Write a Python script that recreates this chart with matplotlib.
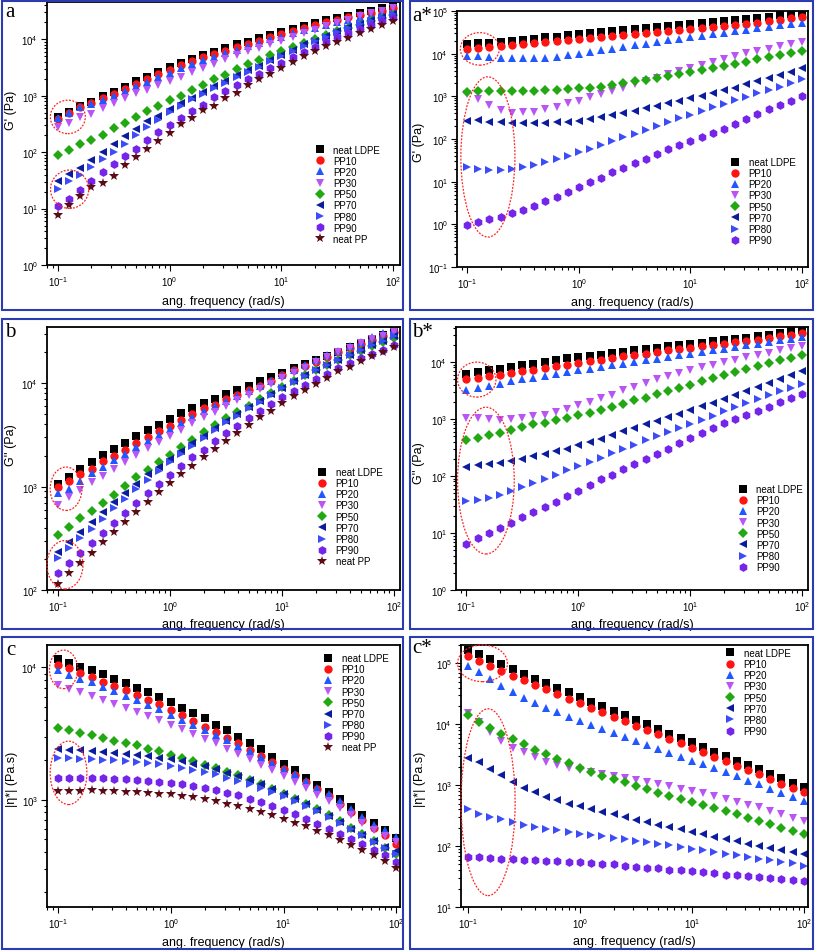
import matplotlib.pyplot as plt
from matplotlib.patches import Ellipse, Rectangle

plt.rcParams['font.family'] = ['Liberation Sans', 'DejaVu Sans']
plt.rcParams['mathtext.default'] = 'regular'

# angular frequency grid (rad/s)
freq = [0.1, 0.126, 0.158, 0.2, 0.251, 0.316, 0.398, 0.501, 0.631, 0.794,
        1.0, 1.26, 1.58, 2.0, 2.51, 3.16, 3.98, 5.01, 6.31, 7.94,
        10, 12.6, 15.8, 20, 25.1, 31.6, 39.8, 50.1, 63.1, 79.4, 100]

# --- panel a : G' (Pa)
a_ldpe = [420, 510, 660, 790, 1000, 1170, 1450, 1820, 2140, 2690, 3240, 3890, 4570, 5370, 6030, 7080, 8130, 9120, 10700, 12000, 13500, 15500, 17400, 19500, 21900, 24000, 26300, 29500, 32400, 35500, 39800]
a_pp10 = [380, 490, 630, 740, 910, 1070, 1320, 1620, 1950, 2400, 2880, 3470, 4070, 4790, 5500, 6310, 7410, 8320, 9550, 11000, 12300, 14100, 15800, 17800, 20000, 21900, 24500, 26900, 29500, 32400, 36300]
a_pp20 = [410, 500, 620, 710, 850, 1000, 1230, 1480, 1780, 2140, 2570, 3090, 3630, 4270, 4900, 5750, 6610, 7590, 8710, 10000, 11200, 12900, 14500, 16200, 18200, 20400, 22400, 24500, 26900, 29500, 32400]
a_pp30 = [280, 330, 420, 480, 600, 760, 910, 1100, 1290, 1550, 1860, 2140, 2630, 3090, 3720, 4470, 5250, 6170, 7080, 8130, 9550, 11200, 12900, 14800, 17400, 19500, 22400, 25700, 29500, 32400, 36300]
a_pp50 = [91, 110, 138, 162, 204, 269, 331, 427, 537, 661, 832, 977, 1260, 1580, 1950, 2340, 2950, 3630, 4370, 5250, 6170, 7240, 8710, 10200, 12000, 13800, 15800, 18200, 20900, 24000, 27500]
a_pp70 = [31, 41, 52, 74, 102, 138, 195, 263, 355, 447, 589, 759, 912, 1150, 1480, 1820, 2290, 2820, 3390, 4270, 5250, 6460, 8130, 9550, 11700, 13800, 16600, 19100, 21900, 25100, 28200]
a_pp80 = [22, 31, 40, 55, 76, 102, 141, 200, 282, 372, 513, 661, 871, 1070, 1380, 1700, 2140, 2630, 3240, 4070, 5010, 6170, 7760, 9330, 11200, 13500, 15800, 18600, 21400, 24500, 28200]
a_pp90 = [11, 15, 21, 31, 44, 62, 87, 115, 162, 224, 302, 407, 537, 692, 933, 1200, 1550, 1950, 2450, 3090, 3890, 4900, 6030, 7240, 8910, 11000, 12900, 15500, 18200, 20900, 24000]
a_pp = [7.6, 11.5, 16.5, 24, 29, 38, 59, 83, 112, 156, 220, 310, 400, 550, 670, 930, 1140, 1580, 2000, 2460, 3100, 4050, 5000, 6100, 7500, 8950, 10700, 13000, 15500, 17700, 21000]

# --- panel a* : G' (Pa)
as_ldpe = [16600, 17400, 18200, 19100, 20000, 20900, 22400, 24000, 25100, 26900, 28200, 30200, 31600, 33100, 35500, 37200, 38900, 41700, 44700, 46800, 50100, 52500, 55000, 58900, 61700, 64600, 69200, 74100, 79400, 85100, 91200]
as_pp10 = [13200, 13600, 14100, 15200, 16000, 16900, 17900, 18800, 19900, 21000, 21700, 23000, 24200, 25600, 27000, 28400, 30600, 32300, 34000, 36000, 38600, 40700, 43100, 45400, 47900, 50600, 53300, 57300, 61700, 67500, 73600]
as_pp20 = [8870, 8870, 8550, 8110, 7960, 7820, 7960, 8110, 8550, 9190, 10000, 11000, 12000, 13200, 14400, 15700, 17200, 18800, 20600, 22100, 24200, 26000, 28400, 31100, 34000, 36600, 40000, 43100, 46200, 49700, 53300]
as_pp30 = [1120, 860, 620, 475, 405, 420, 435, 500, 570, 680, 790, 940, 1120, 1350, 1610, 1930, 2310, 2760, 3300, 3950, 4730, 5560, 6530, 7670, 8870, 10200, 11600, 13200, 15200, 17200, 19200]
as_pp50 = [1230, 1300, 1300, 1300, 1330, 1330, 1350, 1370, 1420, 1470, 1530, 1610, 1700, 1830, 2000, 2230, 2440, 2670, 3020, 3300, 3750, 4170, 4650, 5170, 5860, 6530, 7420, 8400, 9520, 10600, 11600]
as_pp70 = [268, 283, 254, 245, 236, 232, 232, 236, 245, 254, 268, 293, 321, 363, 405, 459, 520, 601, 693, 787, 908, 1030, 1170, 1400, 1610, 1930, 2310, 2670, 3130, 3750, 4730]
as_pp80 = [21.7, 19.9, 18.8, 18.8, 19.9, 21.7, 24.6, 28.4, 34.0, 40.7, 48.8, 58.2, 72.3, 88.1, 113, 131, 162, 197, 245, 303, 370, 459, 550, 658, 815, 975, 1170, 1420, 1700, 2040, 2520]
as_pp90 = [0.97, 1.12, 1.30, 1.52, 1.82, 2.22, 2.75, 3.61, 4.32, 5.86, 7.40, 10.0, 12.2, 16.6, 20.6, 27.4, 34.0, 44.6, 58.2, 73.6, 91.3, 113, 135, 171, 224, 293, 384, 502, 623, 787, 1030]

# --- panel b : G'' (Pa)
b_ldpe = [1070, 1250, 1480, 1720, 2020, 2320, 2650, 3070, 3530, 3980, 4520, 5130, 5730, 6400, 7050, 7890, 8610, 9480, 10400, 11400, 12500, 14000, 15400, 16800, 18500, 20200, 22300, 24400, 26900, 29400, 32400]
b_pp10 = [990, 1130, 1330, 1480, 1760, 2000, 2280, 2650, 3050, 3480, 3890, 4420, 5050, 5730, 6220, 7050, 7770, 8610, 9480, 10600, 11900, 13300, 14600, 16200, 17900, 20000, 21800, 24000, 26300, 28900, 31200]
b_pp20 = [860, 950, 1140, 1350, 1540, 1810, 2070, 2400, 2790, 3190, 3610, 4100, 4760, 5350, 6080, 6800, 7600, 8490, 9480, 10600, 12000, 13500, 15000, 16800, 18800, 20700, 23000, 25300, 27900, 30500, 33600]
b_pp30 = [670, 790, 930, 1100, 1280, 1480, 1720, 2040, 2370, 2690, 3120, 3560, 4100, 4690, 5320, 6080, 6900, 7770, 8810, 9860, 11200, 12500, 14100, 16000, 17900, 20000, 22000, 24400, 26900, 28900, 31200]
b_pp50 = [343, 410, 494, 586, 695, 837, 1020, 1230, 1450, 1720, 2020, 2440, 2850, 3360, 3950, 4590, 5320, 6080, 7050, 8000, 9150, 10400, 11900, 13500, 15000, 16800, 18800, 20700, 22800, 24900, 27200]
b_pp70 = [235, 289, 367, 452, 565, 705, 861, 1060, 1310, 1560, 1850, 2230, 2620, 3120, 3670, 4290, 5050, 5860, 6800, 7890, 9010, 10400, 11900, 13300, 15000, 16900, 18900, 21200, 23500, 25900, 28900]
b_pp80 = [204, 255, 318, 389, 486, 622, 760, 949, 1170, 1430, 1720, 2070, 2490, 2960, 3530, 4200, 4860, 5730, 6650, 7710, 8950, 10200, 11700, 13300, 15000, 16900, 18900, 21000, 23300, 25900, 28500]
b_pp90 = [145, 181, 226, 285, 356, 442, 552, 695, 861, 1060, 1300, 1570, 1920, 2280, 2750, 3280, 3890, 4620, 5430, 6310, 7320, 8490, 9640, 10900, 12300, 14000, 15600, 17500, 19200, 21200, 23200]
b_pp = [114, 145, 181, 226, 289, 361, 452, 565, 716, 881, 1080, 1330, 1600, 1950, 2320, 2790, 3280, 3950, 4690, 5430, 6400, 7480, 8610, 9860, 11300, 13000, 14500, 16300, 18200, 20200, 22300]

# --- panel b* : G'' (Pa)
bs_ldpe = [6240, 6660, 7150, 7640, 8170, 8730, 9350, 10000, 10700, 11500, 12200, 12700, 13400, 14400, 15200, 16000, 16900, 17800, 18800, 19600, 21000, 21900, 23100, 24000, 25400, 26800, 28300, 30200, 32300, 34600, 36000]
bs_pp10 = [4950, 5230, 5600, 5990, 6410, 6860, 7330, 7850, 8400, 8980, 9600, 10300, 11000, 11800, 12600, 13300, 14000, 15000, 16000, 16900, 17600, 18800, 19900, 21000, 22200, 23400, 24700, 26400, 28300, 30200, 32300]
bs_pp20 = [3270, 3490, 3790, 4160, 4570, 4950, 5300, 5750, 6240, 6660, 7140, 7640, 8170, 8740, 9350, 10000, 10700, 11400, 12200, 13100, 14000, 15000, 16000, 17100, 18300, 19600, 21000, 22400, 24000, 25700, 27500]
bs_pp30 = [1040, 1050, 1010, 970, 980, 1040, 1110, 1190, 1320, 1510, 1730, 1980, 2330, 2670, 3180, 3640, 4280, 4960, 5600, 6500, 7330, 8170, 8980, 10000, 11000, 12200, 13500, 14600, 16000, 17600, 18800]
bs_pp50 = [432, 469, 515, 566, 630, 721, 803, 848, 944, 1040, 1160, 1270, 1420, 1620, 1800, 2120, 2360, 2700, 3090, 3490, 4000, 4570, 5230, 5990, 6670, 7430, 8510, 9600, 10700, 11700, 13100]
bs_pp70 = [143, 157, 164, 170, 180, 200, 220, 245, 269, 300, 343, 393, 450, 515, 605, 692, 803, 918, 1080, 1240, 1450, 1660, 1930, 2270, 2670, 3090, 3640, 4280, 4950, 5830, 6860]
bs_pp80 = [35.7, 38, 41, 47, 54, 64, 76, 89, 105, 125, 149, 175, 208, 252, 300, 353, 421, 501, 589, 692, 826, 971, 1140, 1360, 1620, 1910, 2240, 2630, 3090, 3540, 4160]
bs_pp90 = [6.4, 8.2, 9.9, 12.3, 14.8, 18.9, 23.2, 29.1, 35.6, 44.3, 55.6, 68.1, 86.9, 106, 130, 164, 200, 245, 300, 377, 462, 566, 692, 848, 1000, 1180, 1400, 1650, 1950, 2300, 2700]

# --- panel c : |eta*| (Pa.s)
c_ldpe = [11600, 10800, 10100, 9540, 8900, 8250, 7660, 7050, 6540, 6000, 5500, 4980, 4540, 4160, 3660, 3350, 2980, 2660, 2400, 2100, 1870, 1670, 1460, 1300, 1140, 1010, 880, 769, 670, 586, 513]
c_pp10 = [10500, 9830, 9120, 8490, 7780, 7260, 6730, 6170, 5660, 5270, 4750, 4360, 3920, 3550, 3260, 2930, 2660, 2370, 2140, 1930, 1720, 1530, 1360, 1210, 1070, 933, 807, 697, 610, 537, 465]
c_pp20 = [9540, 8850, 8250, 7700, 7140, 6620, 6100, 5660, 5190, 4810, 4400, 4040, 3700, 3390, 3110, 2810, 2550, 2320, 2100, 1910, 1720, 1550, 1380, 1230, 1100, 970, 855, 739, 640, 586, 521]
c_pp30 = [7350, 6930, 6540, 6070, 5660, 5270, 4950, 4610, 4280, 3990, 3700, 3410, 3160, 2900, 2660, 2430, 2230, 2040, 1840, 1670, 1510, 1360, 1230, 1090, 977, 870, 761, 665, 593, 528, 478]
c_pp50 = [3510, 3350, 3220, 3070, 2930, 2780, 2700, 2580, 2430, 2320, 2190, 2070, 1950, 1840, 1740, 1620, 1530, 1420, 1310, 1210, 1110, 1020, 933, 845, 761, 689, 614, 546, 486, 433, 385]
c_pp70 = [2400, 2390, 2370, 2340, 2300, 2260, 2230, 2190, 2140, 2080, 2020, 1950, 1870, 1790, 1700, 1600, 1510, 1400, 1310, 1210, 1110, 1020, 923, 840, 752, 677, 603, 537, 490, 440, 410]
c_pp80 = [2070, 2070, 2040, 2020, 2010, 1990, 1960, 1930, 1900, 1850, 1800, 1750, 1690, 1620, 1550, 1470, 1380, 1310, 1220, 1140, 1060, 977, 896, 820, 739, 670, 596, 537, 478, 431, 390]
c_pp90 = [1460, 1460, 1460, 1450, 1450, 1430, 1430, 1400, 1380, 1360, 1340, 1310, 1270, 1220, 1180, 1130, 1080, 1020, 960, 896, 840, 774, 718, 658, 603, 552, 507, 459, 418, 378, 337]
c_pp = [1160, 1160, 1160, 1180, 1160, 1160, 1140, 1140, 1130, 1110, 1100, 1070, 1040, 1010, 971, 933, 890, 855, 807, 761, 718, 669, 628, 579, 537, 498, 456, 413, 378, 341, 306]

# --- panel c* : |eta*| (Pa.s)
cs_ldpe = [166000, 141000, 116000, 96300, 79700, 65900, 55300, 46900, 39800, 33400, 27600, 23400, 19900, 16700, 14000, 11700, 9930, 8340, 6980, 5850, 5030, 4220, 3530, 2960, 2480, 2130, 1810, 1500, 1290, 1090, 939]
cs_pp10 = [134000, 109000, 90400, 74800, 62700, 53200, 44000, 37400, 31400, 26000, 22000, 18700, 15700, 13300, 11300, 9440, 8020, 6810, 5700, 4840, 4110, 3440, 2920, 2480, 2080, 1770, 1500, 1260, 1060, 904, 776]
cs_pp20 = [91600, 71100, 55300, 42900, 33400, 27300, 22600, 18700, 15700, 13300, 11300, 9680, 8220, 7060, 6080, 5290, 4550, 3910, 3400, 2920, 2540, 2190, 1880, 1620, 1390, 1190, 1030, 859, 748, 643, 546]
cs_pp30 = [15100, 10700, 7340, 5290, 4110, 3440, 2850, 2420, 2130, 1930, 1770, 1660, 1540, 1420, 1320, 1220, 1140, 1050, 964, 881, 807, 730, 659, 589, 532, 481, 430, 378, 334, 294, 259]
cs_pp50 = [14200, 10700, 8550, 6810, 5640, 4660, 3850, 3190, 2670, 2270, 1930, 1660, 1420, 1260, 1110, 975, 859, 757, 676, 604, 532, 469, 419, 374, 330, 294, 259, 229, 201, 177, 157]
cs_pp70 = [2810, 2420, 1810, 1460, 1130, 904, 776, 643, 566, 500, 452, 403, 365, 330, 302, 273, 250, 225, 206, 189, 171, 157, 142, 129, 120, 110, 101, 93, 85, 80, 75]
cs_pp80 = [403, 342, 302, 276, 250, 220, 206, 194, 182, 171, 160, 154, 147, 138, 129, 123, 117, 110, 103, 97, 91, 85, 80, 75, 71, 66, 62, 59, 55, 52, 48]
cs_pp90 = [66, 65, 64, 62, 61, 60, 59, 57, 56, 55, 54, 52, 51, 50, 48, 46, 44, 43, 41, 40, 39, 37, 36, 34, 33, 32, 31, 30, 29, 28, 27]

labels = ['neat LDPE', 'PP10', 'PP20', 'PP30', 'PP50', 'PP70', 'PP80', 'PP90', 'neat PP']
markers = ['s', 'o', '^', 'v', 'D', '<', '>', 'h', '*']
colors = ['#000000', '#ff1414', '#2157ff', '#b955f5', '#22a812', '#0b1c9c', '#3c4cf6', '#7524ea', '#5c0c16']
msizes = [5.2, 6, 6, 6, 4.8, 6, 6, 6.3, 7]

W, H = 817, 953
fig = plt.figure(figsize=(W / 100, H / 100), dpi=100)


def px_axes(l, t, r, b):
    return [l / W, 1 - b / H, (r - l) / W, (b - t) / H]


panels = [
    # letter, axes px box, series, ylabel, ylim, xlim, ylabel xy, xlabel y, legend xy, ellipses
    ('a', (47, 3, 400, 266), [a_ldpe, a_pp10, a_pp20, a_pp30, a_pp50, a_pp70, a_pp80, a_pp90, a_pp],
     "G' (Pa)", (1, 4.6e4), (0.08, 115), (-0.085, 0.59), -0.114, (0.759, 0.458),
     [(0.059, 0.563, 0.099, 0.127), (0.064, 0.288, 0.108, 0.146)]),
    ('a*', (457, 12, 808, 268), [as_ldpe, as_pp10, as_pp20, as_pp30, as_pp50, as_pp70, as_pp80, as_pp90],
     "G' (Pa)", (0.1, 1e5), (0.081, 113), (-0.091, 0.49), -0.113, (0.778, 0.43),
     [(0.065, 0.852, 0.111, 0.127), (0.088, 0.43, 0.154, 0.626)]),
    ('b', (47, 328, 400, 591), [b_ldpe, b_pp10, b_pp20, b_pp30, b_pp50, b_pp70, b_pp80, b_pp90, b_pp],
     "G'' (Pa)", (100, 3.5e4), (0.08, 112), (-0.085, 0.555), -0.106, (0.765, 0.468),
     [(0.054, 0.385, 0.09, 0.165), (0.051, 0.096, 0.102, 0.184)]),
    ('b*', (456, 328, 808, 591), [bs_ldpe, bs_pp10, bs_pp20, bs_pp30, bs_pp50, bs_pp70, bs_pp80, bs_pp90],
     "G'' (Pa)", (1, 4.1e4), (0.081, 112), (-0.088, 0.487), -0.106, (0.801, 0.403),
     [(0.059, 0.80, 0.109, 0.133), (0.085, 0.416, 0.161, 0.558)]),
    ('c', (47, 646, 400, 908), [c_ldpe, c_pp10, c_pp20, c_pp30, c_pp50, c_pp70, c_pp80, c_pp90, c_pp],
     "|\u03b7*| (Pa.s)", (154, 1.48e4), (0.0798, 108), (-0.082, 0.492), -0.11, (0.782, 0.969),
     [(0.047, 0.907, 0.08, 0.147), (0.061, 0.512, 0.104, 0.242)]),
    ('c*', (461, 646, 808, 908), [cs_ldpe, cs_pp10, cs_pp20, cs_pp30, cs_pp50, cs_pp70, cs_pp80, cs_pp90],
     "|\u03b7*| (Pa.s)", (10, 2e5), (0.087, 109), (-0.10, 0.49), -0.107, (0.761, 0.989),
     [(0.062, 0.93, 0.144, 0.14), (0.078, 0.40, 0.156, 0.713)]),
]

boxes = [(2, 2, 403, 311), (410, 2, 813, 311), (2, 320, 403, 630),
         (410, 320, 813, 630), (2, 638, 403, 950), (410, 638, 813, 950)]
letter_pos = [(5, 3), (412, 7), (5, 323), (412, 323), (6, 641), (412, 639)]

for (letter, box, series, ylab, ylim, xlim, ylab_xy, xlab_y, leg_xy, ells), fb, lp in zip(panels, boxes, letter_pos):
    ax = fig.add_axes(px_axes(*box))
    for vals, lab, m, c, ms in zip(series, labels, markers, colors, msizes):
        ax.plot(freq, vals, ls='none', marker=m, color=c, ms=ms, mew=0, label=lab)
    ax.set_xscale('log')
    ax.set_yscale('log')
    ax.set_xlim(*xlim)
    ax.set_ylim(*ylim)
    ax.set_xlabel('ang. frequency (rad/s)', fontsize=9)
    ax.set_ylabel(ylab, fontsize=9)
    ax.yaxis.set_label_coords(*ylab_xy)
    ax.xaxis.set_label_coords(0.5, xlab_y)
    ax.xaxis.label.set_va('top')
    ax.tick_params(which='both', direction='out', top=False, right=False, labelsize=7, width=0.8)
    ax.tick_params(which='major', length=4, pad=2.5)
    ax.tick_params(which='minor', length=2)
    for s in ax.spines.values():
        s.set_linewidth(1.3)
    ax.legend(loc='upper left', bbox_to_anchor=leg_xy, frameon=False, fontsize=7,
              handlelength=1.0, handletextpad=0.9, labelspacing=0.12,
              borderpad=0, borderaxespad=0, numpoints=1)
    for cx, cy, w, h in ells:
        ax.add_patch(Ellipse((cx, cy), w, h, transform=ax.transAxes, fill=False,
                             ec='#ff2020', lw=0.9, ls=(0, (1.5, 1.2)), clip_on=False, zorder=5))
    x0, y0, x1, y1 = fb
    fig.add_artist(Rectangle((x0 / W, 1 - y1 / H), (x1 - x0) / W, (y1 - y0) / H,
                             transform=fig.transFigure, fill=False, ec='#2b3bb0', lw=1.5))
    fig.text(lp[0] / W, 1 - lp[1] / H, letter, family='Liberation Serif', fontsize=15,
             ha='left', va='top')

fig.savefig('out.png', dpi=100)
